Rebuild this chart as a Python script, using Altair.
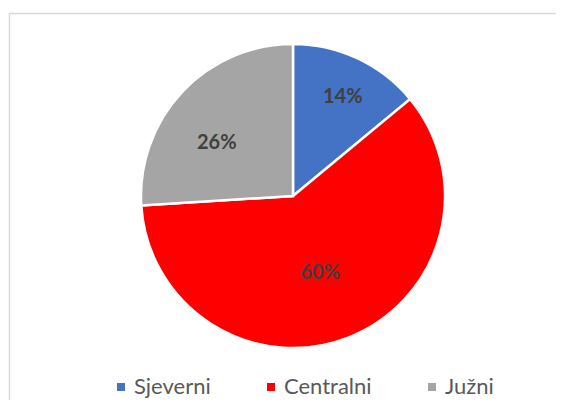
import altair as alt
import pandas as pd

regions = ["Sjeverni", "Centralni", "Južni"]
shares = [14, 60, 26]
colors = ["#4472C4", "#FF0000", "#A5A5A5"]

# label placement (Excel best-fit look): distance from centre and small angular nudge
label_radius = [111, 82, 93]
label_nudge = [0.4, 0.6, -2.3]

df = pd.DataFrame({
    "region": regions,
    "share": shares,
    "idx": list(range(len(regions))),
    "label": [f"{v}%" for v in shares],
    "lr": label_radius,
    "nudge": label_nudge,
})

total = sum(shares)
theta_scale = alt.Scale(domain=[0, total])

color = alt.Color(
    "region:N",
    scale=alt.Scale(domain=regions, range=colors),
    sort=None,
    legend=alt.Legend(
        title=None,
        orient="none",
        legendX=80,
        legendY=368,
        direction="horizontal",
        symbolType="square",
        symbolSize=64,
        symbolStrokeWidth=0,
        labelFont="Lato",
        labelFontSize=22,
        labelColor="#595959",
        labelOffset=2,
        columnPadding=49,
        padding=0,
    ),
)

pie = alt.Chart(df).mark_arc(outerRadius=152, stroke="white", strokeWidth=2.5).encode(
    theta=alt.Theta("share:Q", stack=True, scale=theta_scale),
    order=alt.Order("idx:Q"),
    color=color,
)

labels = alt.Chart(df).transform_window(
    cum="sum(share)", sort=[alt.SortField("idx")], frame=[None, 0]
).transform_calculate(
    mid="datum.cum - datum.share / 2 + datum.nudge"
).mark_text(
    font="Lato", fontSize=20, fontWeight="bold", color="#404040",
    align="center", baseline="middle",
).encode(
    theta=alt.Theta("mid:Q", stack=None, scale=theta_scale),
    radius=alt.Radius("lr:Q", scale=None),
    text="label:N",
)

border_df = pd.DataFrame({"k": [0]})
left_line = alt.Chart(border_df).mark_rule(color="#D9D9D9", strokeWidth=1.5).encode(
    x=alt.value(-20.5), y=alt.value(5.5), y2=alt.value(420)
)
top_line = alt.Chart(border_df).mark_rule(color="#D9D9D9", strokeWidth=1.5).encode(
    y=alt.value(5.5), x=alt.value(-20.5), x2=alt.value(560)
)

chart = alt.layer(left_line, top_line, pie, labels).properties(
    width=526,
    height=376,
    padding={"left": 22, "top": 0, "right": 0, "bottom": 16},
    autosize=alt.AutoSizeParams(type="none"),
).configure_view(stroke=None)

chart.save("out.html", embed_options={"renderer": "svg", "actions": False})
